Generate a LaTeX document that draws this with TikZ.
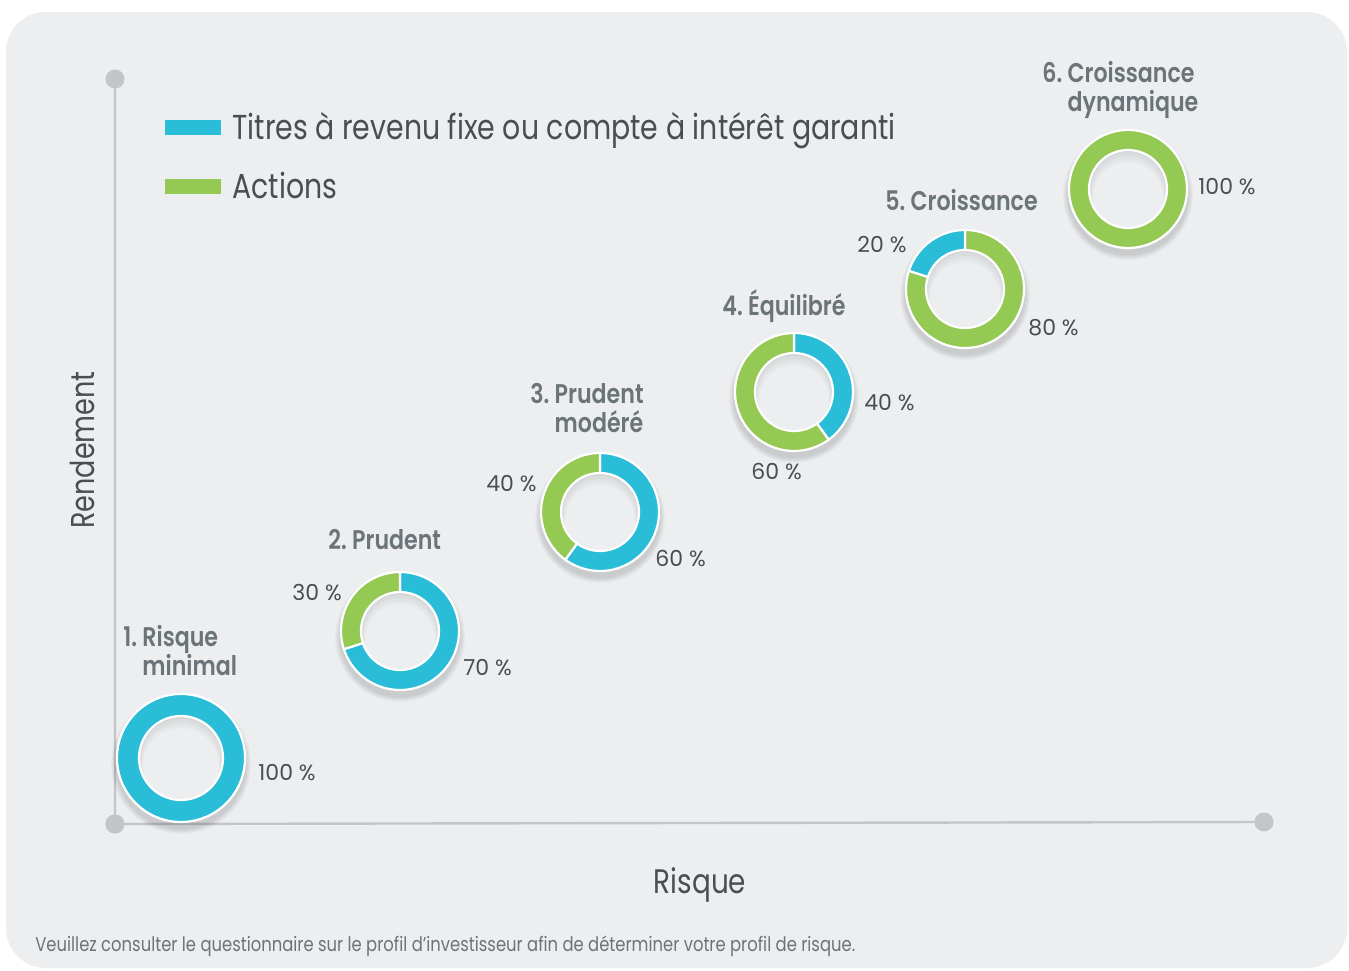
\documentclass[tikz,border=0pt]{standalone}
\usepackage{fontspec}
\setmainfont{Poppins}[FakeStretch=0.82, BoldFont={Poppins SemiBold}]
\newfontfamily\chiffres{Poppins}
\usepackage{tikz}
\usetikzlibrary{positioning}
\usepackage{xcolor}

\definecolor{fixe}{HTML}{29BDD8}
\definecolor{actions}{HTML}{94C953}
\definecolor{fond}{HTML}{EDEEF0}
\definecolor{axe}{HTML}{C4C5C8}
\definecolor{titre}{HTML}{6B7478}
\definecolor{texte}{HTML}{4A4D51}

% one slice of a ring: centre, outer, inner radius, start and end angle, colour
\newcommand{\tranche}[6]{%
  \fill[#6, draw=white, line width=1.1pt, line join=round]
    ([shift={(#4:#2)}]#1) arc[start angle=#4, end angle=#5, radius=#2]
    -- ([shift={(#5:#3)}]#1) arc[start angle=#5, end angle=#4, radius=#3] -- cycle;}
% a ring of one colour
\newcommand{\plein}[4]{%
  \fill[#4, draw=white, line width=1.1pt, even odd rule]
    (#1) circle[radius=#2] (#1) circle[radius=#3];}
% soft shadow under a ring, and inside its hole
\newcommand{\ombre}[3]{%
  \foreach \k in {0,...,5}
    \fill[black, opacity=0.025] ([yshift=-3pt]#1) circle[radius=#2+\k];
  \fill[fond] (#1) circle[radius=#3];
  \begin{scope}
    \clip (#1) circle[radius=#3];
    \foreach \k in {1,...,4}
      \fill[black, opacity=0.025, even odd rule] (#1) circle[radius=#3+5]
        ([yshift=-\k pt]#1) circle[radius=#3-\k];
  \end{scope}}

\begin{document}
\begin{tikzpicture}[x=0.5pt, y=0.5pt,
    point/.style={circle, fill=axe, inner sep=0pt, minimum size=9.5pt},
    legende/.style={anchor=base west, inner sep=0pt, text=texte, font=\fontsize{17.3}{20}\selectfont},
    profil/.style={anchor=base west, inner sep=0pt, text=titre, align=left, font=\bfseries\fontsize{13.5}{14.5}\selectfont},
    pourcent/.style={anchor=base west, inner sep=0pt, text=texte, font=\chiffres\fontsize{11}{12}\selectfont}]

    % background
    \fill[white] (0,0) rectangle (1349,970);
    \fill[fond, rounded corners=20pt] (6,2) rectangle (1347,958);

    % axes
    \node[point] (o) at (115,146) {};
    \node[point] (ymax) at (115,891) {};
    \node[point] (xmax) at (1264,148) {};
    \draw[axe, line width=1.2pt] (ymax.center) -- (o.center) -- (xmax.center);
    \node[point] at (o) {};
    \node[text=texte, rotate=90, anchor=base, font=\fontsize{16.5}{18}\selectfont] (rend) at (94,520) {Rendement};
    \node[text=texte, anchor=base, font=\fontsize{17}{18}\selectfont] (risque) at (700,77) {Risque};

    % legend
    \fill[fixe] (165,835) rectangle (221,850);
    \fill[actions] (165,776) rectangle (221,791);
    \node[legende] (lfixe) at (232,830) {Titres à revenu fixe ou compte à intérêt garanti};
    \node[legende] (lact) at (232,771) {Actions};

    % ring centres
    \coordinate (d1) at (181,212);
    \coordinate (d2) at (400,339);
    \coordinate (d3) at (600,458);
    \coordinate (d4) at (794,578);
    \coordinate (d5) at (965,681);
    \coordinate (d6) at (1128,781);

    % rings
    \ombre{d1}{65}{42}
    \plein{d1}{64}{42}{fixe}
    \ombre{d2}{60}{39}
    \tranche{d2}{59}{39}{90}{-162}{fixe}
    \tranche{d2}{59}{39}{198}{90}{actions}
    \ombre{d3}{60}{39}
    \tranche{d3}{59}{39}{90}{-126}{fixe}
    \tranche{d3}{59}{39}{234}{90}{actions}
    \ombre{d4}{60}{39}
    \tranche{d4}{59}{39}{90}{-54}{fixe}
    \tranche{d4}{59}{39}{306}{90}{actions}
    \ombre{d5}{60}{39}
    \tranche{d5}{59}{39}{90}{-198}{actions}
    \tranche{d5}{59}{39}{162}{90}{fixe}
    \ombre{d6}{60}{39}
    \plein{d6}{59}{39}{actions}

    % profile names (anchored on the last line)
    \node[profil] (p1) at (123,294) {1.~Risque\\\hphantom{1.~}minimal};
    \node[profil] (p2) at (328,420) {2.~Prudent};
    \node[profil] (p3) at (530,537) {3.~Prudent\\\hphantom{3.~}modéré};
    \node[profil] (p4) at (722,654) {4.~Équilibré};
    \node[profil] (p5) at (885,759) {5.~Croissance};
    \node[profil] (p6) at (1042,858) {6.~Croissance\\\hphantom{6.~}dynamique};

    % shares
    \node[pourcent] (v1) at (258,190) {100 \%};
    \node[pourcent] (v2a) at (292,369) {30 \%};
    \node[pourcent] (v2b) at (463,294) {70 \%};
    \node[pourcent] (v3a) at (486,478) {40 \%};
    \node[pourcent] (v3b) at (655,403) {60 \%};
    \node[pourcent] (v4a) at (864,559) {40 \%};
    \node[pourcent] (v4b) at (751,490) {60 \%};
    \node[pourcent] (v5a) at (857,717) {20 \%};
    \node[pourcent] (v5b) at (1028,634) {80 \%};
    \node[pourcent] (v6) at (1198,775) {100 \%};

    % note
    \node[anchor=base west, inner sep=0pt, text=titre, font=\fontsize{10}{12}\selectfont] (note) at (35,19)
        {Veuillez consulter le questionnaire sur le profil d’investisseur afin de déterminer votre profil de risque.};
\end{tikzpicture}
\end{document}
